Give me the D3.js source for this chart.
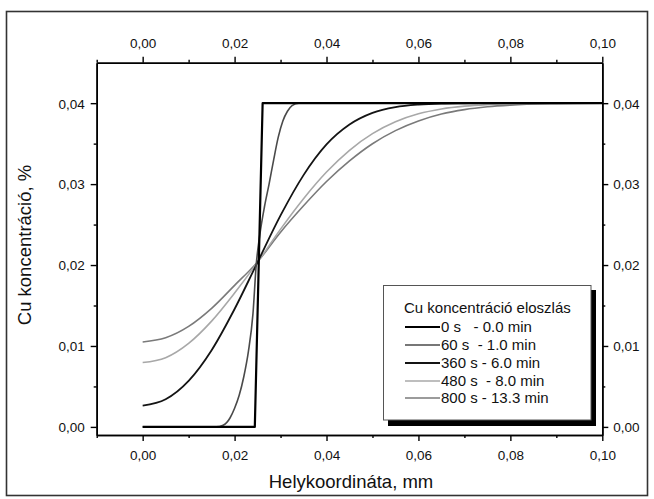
<!DOCTYPE html>
<html>
<head>
<meta charset="utf-8">
<script src="https://cdn.jsdelivr.net/npm/d3@7"></script>
<style>
  html, body { margin: 0; padding: 0; background: #fff; }
  svg { display: block; font-family: "Liberation Sans", Arial, sans-serif; }
</style>
</head>
<body>
<svg id="chart" width="654" height="499"></svg>
<script>
// ---- data ----
const xTicks = [0.00, 0.02, 0.04, 0.06, 0.08, 0.10];
const xMinor = [-0.01, 0.01, 0.03, 0.05, 0.07, 0.09];
const yTicks = [0.00, 0.01, 0.02, 0.03, 0.04];
const yMinor = [0.005, 0.015, 0.025, 0.035];

const t0X = [0, 0.0244, 0.0261, 0.10];
const t0Y = [0, 0, 0.04, 0.04];

const t60X = [0, 0.016, 0.0175, 0.019, 0.020, 0.021, 0.022, 0.023, 0.024, 0.0247, 0.0255, 0.0265, 0.0275, 0.0285, 0.0295, 0.0305, 0.0315, 0.0325, 0.034, 0.036, 0.10];
const t60Y = [0, 0, 0.0002, 0.0011, 0.0023, 0.0039, 0.0062, 0.0093, 0.0140, 0.0200, 0.0238, 0.0272, 0.0300, 0.0330, 0.0358, 0.0378, 0.0390, 0.0397, 0.0400, 0.0400, 0.0400];

const gridX = [0, 0.005, 0.01, 0.015, 0.02, 0.0247, 0.03, 0.035, 0.04, 0.045, 0.05, 0.055, 0.06, 0.065, 0.07, 0.075, 0.08, 0.09, 0.10];
const t360Y = [0.00264, 0.00342, 0.00569, 0.00948, 0.01457, 0.0200, 0.02613, 0.03111, 0.0349, 0.03736, 0.0388, 0.03952, 0.03983, 0.03995, 0.03998, 0.04, 0.04, 0.04, 0.04];
const t480Y = [0.00795, 0.00855, 0.01032, 0.01307, 0.01654, 0.0201, 0.02444, 0.0282, 0.03149, 0.03418, 0.03623, 0.0377, 0.03868, 0.03928, 0.03963, 0.03982, 0.03992, 0.03999, 0.04];
const t800Y = [0.0105, 0.01102, 0.01242, 0.01465, 0.01749, 0.0202, 0.02406, 0.02732, 0.03032, 0.03287, 0.03499, 0.03661, 0.0378, 0.03865, 0.0392, 0.03955, 0.03976, 0.03994, 0.04];

const legendTitle = "Cu koncentráció eloszlás";
const seriesNames = ["0 s   - 0.0 min", "60 s  - 1.0 min", "360 s - 6.0 min", "480 s  - 8.0 min", "800 s - 13.3 min"];
const seriesColors = ["#000000", "#4a4a4a", "#141414", "#a8a8a8", "#7a7a7a"];
const seriesWidths = [2.2, 1.6, 1.8, 1.6, 1.6];

// ---- layout ----
const svg = d3.select("#chart");
const L = 96.7, R = 602.3, T = 62.7, B = 435;
const x = d3.scaleLinear().domain([-0.01, 0.10]).range([L, R]);
const y = d3.scaleLinear().domain([-0.001, 0.045]).range([B, T]);
const fmt = d => d3.format(".2f")(d).replace(".", ",");

// outer border
svg.append("rect").attr("x", 6.5).attr("y", 11.5).attr("width", 641).attr("height", 484)
  .attr("fill", "none").attr("stroke", "#333").attr("stroke-width", 1.6);

// curves
const seriesData = [
  t0X.map((v, i) => [v, t0Y[i]]),
  t60X.map((v, i) => [v, t60Y[i]]),
  gridX.map((v, i) => [v, t360Y[i]]),
  gridX.map((v, i) => [v, t480Y[i]]),
  gridX.map((v, i) => [v, t800Y[i]])
];
const lineLin = d3.line().x(d => x(d[0])).y(d => y(d[1]));
const lineSmooth = d3.line().x(d => x(d[0])).y(d => y(d[1])).curve(d3.curveMonotoneX);
const drawOrder = [4, 3, 2, 1, 0];
drawOrder.forEach(i => {
  svg.append("path").datum(seriesData[i])
    .attr("d", i === 0 ? lineLin : lineSmooth)
    .attr("fill", "none")
    .attr("stroke", seriesColors[i])
    .attr("stroke-width", seriesWidths[i])
    .attr("stroke-linejoin", "round");
});

// axes
function styleAxis(g) {
  g.select(".domain").attr("stroke", "#000").attr("stroke-width", 1.6);
  g.selectAll(".tick line").attr("stroke", "#000").attr("stroke-width", 1.4);
  g.selectAll("text").attr("font-size", 13.5).attr("fill", "#111")
    .attr("font-family", "'Liberation Sans', Arial, sans-serif");
}
const gb = svg.append("g").attr("transform", `translate(0,${B})`)
  .call(d3.axisBottom(x).tickValues(xTicks).tickFormat(fmt).tickSize(6).tickSizeOuter(0));
gb.selectAll("text").attr("y", 25).attr("dy", 0);
styleAxis(gb);
const gbm = svg.append("g").attr("transform", `translate(0,${B})`)
  .call(d3.axisBottom(x).tickValues(xMinor).tickFormat("").tickSize(3).tickSizeOuter(0));
styleAxis(gbm);

const gt = svg.append("g").attr("transform", `translate(0,${T})`)
  .call(d3.axisTop(x).tickValues(xTicks).tickFormat(fmt).tickSize(6).tickSizeOuter(0));
gt.selectAll("text").attr("y", -14.5).attr("dy", 0);
styleAxis(gt);
const gtm = svg.append("g").attr("transform", `translate(0,${T})`)
  .call(d3.axisTop(x).tickValues(xMinor).tickFormat("").tickSize(3).tickSizeOuter(0));
styleAxis(gtm);

const gl = svg.append("g").attr("transform", `translate(${L},0)`)
  .call(d3.axisLeft(y).tickValues(yTicks).tickFormat(fmt).tickSize(6).tickSizeOuter(0));
gl.selectAll("text").attr("x", -12).attr("dy", "0.36em");
styleAxis(gl);
const glm = svg.append("g").attr("transform", `translate(${L},0)`)
  .call(d3.axisLeft(y).tickValues(yMinor).tickFormat("").tickSize(3).tickSizeOuter(0));
styleAxis(glm);

const gr = svg.append("g").attr("transform", `translate(${R},0)`)
  .call(d3.axisRight(y).tickValues(yTicks).tickFormat(fmt).tickSize(6).tickSizeOuter(0));
gr.selectAll("text").attr("x", 11).attr("dy", "0.36em");
styleAxis(gr);
const grm = svg.append("g").attr("transform", `translate(${R},0)`)
  .call(d3.axisRight(y).tickValues(yMinor).tickFormat("").tickSize(3).tickSizeOuter(0));
styleAxis(grm);

// axis titles
svg.append("text").attr("x", 351).attr("y", 488).attr("text-anchor", "middle")
  .attr("font-size", 18.5).attr("fill", "#111").text("Helykoordináta, mm");
svg.append("text").attr("transform", "translate(31,245) rotate(-90)").attr("text-anchor", "middle")
  .attr("font-size", 18.5).attr("fill", "#111").text("Cu koncentráció, %");

// legend
const lg = svg.append("g");
lg.append("rect").attr("x", 388).attr("y", 290).attr("width", 208).attr("height", 136).attr("fill", "#000");
lg.append("rect").attr("x", 383.5).attr("y", 285.5).attr("width", 207.5).attr("height", 134.5)
  .attr("fill", "#fff").attr("stroke", "#555").attr("stroke-width", 1);
lg.append("text").attr("x", 404).attr("y", 313).attr("font-size", 15).attr("fill", "#111").text(legendTitle);
const legY = [327, 345, 363, 381, 398];
seriesNames.forEach((name, i) => {
  lg.append("line").attr("x1", 405).attr("x2", 440).attr("y1", legY[i]).attr("y2", legY[i])
    .attr("stroke", seriesColors[i]).attr("stroke-width", seriesWidths[i]);
  lg.append("text").attr("x", 441).attr("y", legY[i] + 5).attr("font-size", 15).attr("fill", "#111")
    .attr("xml:space", "preserve").style("white-space", "pre").text(name);
});
</script>
</body>
</html>
